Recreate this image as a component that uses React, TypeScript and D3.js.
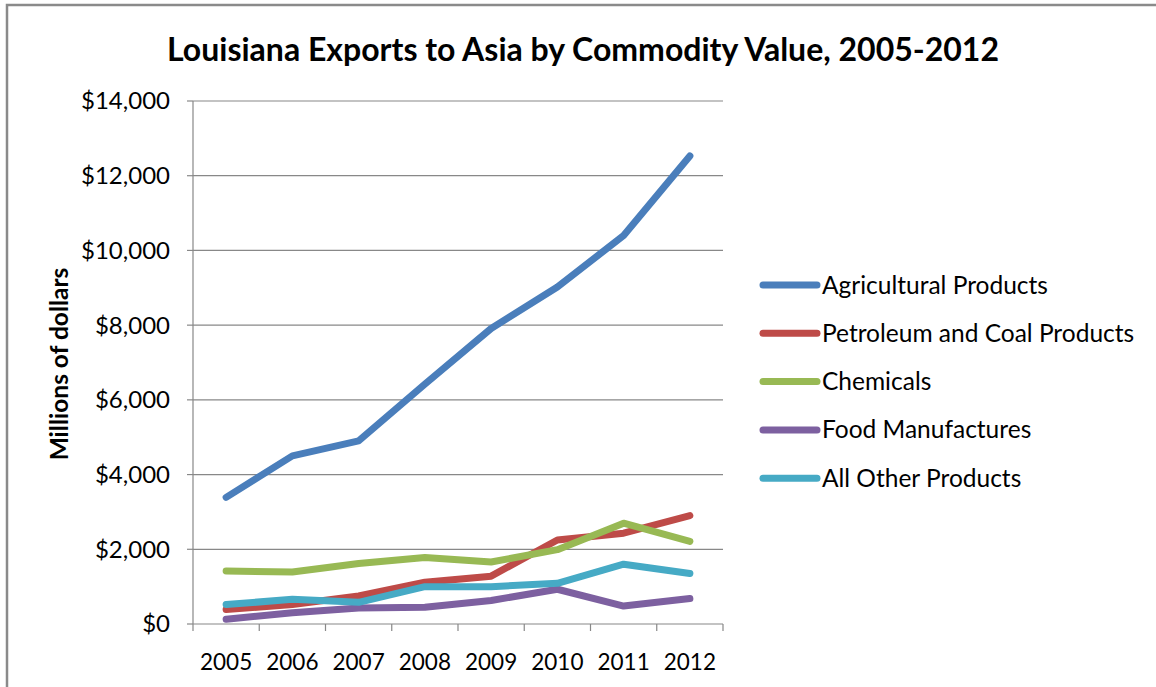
import React from 'react';
import * as d3 from 'd3';

// Louisiana exports to Asia, millions of dollars
const years = ['2005', '2006', '2007', '2008', '2009', '2010', '2011', '2012'];
const agricultural = [3390, 4500, 4900, 6420, 7910, 9020, 10400, 12530];
const petroleum = [390, 520, 750, 1120, 1280, 2250, 2430, 2900];
const chemicals = [1420, 1390, 1620, 1780, 1660, 1990, 2700, 2210];
const food = [130, 300, 430, 450, 630, 930, 480, 680];
const allOther = [520, 660, 580, 1000, 1000, 1090, 1600, 1350];
const seriesNames = [
  'Agricultural Products',
  'Petroleum and Coal Products',
  'Chemicals',
  'Food Manufactures',
  'All Other Products',
];
const yTicks = [0, 2000, 4000, 6000, 8000, 10000, 12000, 14000];

const colors = ['#4a7ebb', '#be4b48', '#98b954', '#7d60a0', '#46aac5'];
const FONT = 'Lato, "Open Sans", sans-serif';

const App = () => {
  const width = 1156;
  const height = 687;
  const left = 193;
  const right = 723;
  const top = 101;
  const bottom = 624;

  const x = d3.scaleBand().domain(years).range([left, right]).padding(0);
  const y = d3.scaleLinear().domain([0, 14000]).range([bottom, top]);
  const fmt = d3.format('$,');

  const series = [agricultural, petroleum, chemicals, food, allOther];

  const line = d3
    .line<number>()
    .x((d, i) => (x(years[i]) as number) + x.bandwidth() / 2)
    .y((d) => y(d));

  const boundaries = years.map((yr) => x(yr) as number).concat([right]);

  return (
    <div style={{ position: 'absolute', left: 0, top: 0 }}>
      <svg width={width} height={height} style={{ display: 'block', background: '#fff' }}>
        {/* chart frame */}
        <rect x={7} y={5} width={1200} height={720} fill="none" stroke="#8a8a8a" strokeWidth={2.5} />

        <text
          x={583}
          y={61}
          textAnchor="middle"
          fontFamily={FONT}
          fontWeight="bold"
          fontSize={32}
          fill="#000"
        >
          Louisiana Exports to Asia by Commodity Value, 2005-2012
        </text>

        {/* gridlines */}
        {yTicks.map((t) => (
          <g key={t}>
            {t > 0 && (
              <line x1={left} x2={right} y1={y(t)} y2={y(t)} stroke="#888" strokeWidth={1.2} />
            )}
            <line x1={left - 6} x2={left} y1={y(t)} y2={y(t)} stroke="#888" strokeWidth={1.2} />
            <text
              x={170}
              y={y(t)}
              dy="0.35em"
              textAnchor="end"
              fontFamily={FONT}
              fontSize={24}
              fill="#000"
            >
              {fmt(t)}
            </text>
          </g>
        ))}

        {/* axes */}
        <line x1={left} x2={left} y1={top} y2={bottom} stroke="#888" strokeWidth={1.2} />
        <line x1={left} x2={right} y1={bottom} y2={bottom} stroke="#888" strokeWidth={1.2} />
        {boundaries.map((b, i) => (
          <line key={i} x1={b} x2={b} y1={bottom} y2={bottom + 7} stroke="#888" strokeWidth={1.2} />
        ))}
        {years.map((yr) => (
          <text
            key={yr}
            x={(x(yr) as number) + x.bandwidth() / 2}
            y={670}
            textAnchor="middle"
            fontFamily={FONT}
            fontSize={22.5}
            fill="#000"
          >
            {yr}
          </text>
        ))}

        <text
          transform={`translate(68, 364) rotate(-90)`}
          textAnchor="middle"
          fontFamily={FONT}
          fontWeight="bold"
          fontSize={24.5}
          fill="#000"
        >
          Millions of dollars
        </text>

        {/* series */}
        {series.map((s, i) => (
          <path
            key={seriesNames[i]}
            d={line(s) || ''}
            fill="none"
            stroke={colors[i]}
            strokeWidth={7}
            strokeLinejoin="round"
            strokeLinecap="round"
          />
        ))}

        {/* legend */}
        {seriesNames.map((name, i) => {
          const ly = 285 + i * 48.3;
          return (
            <g key={name}>
              <line
                x1={763}
                x2={817}
                y1={ly}
                y2={ly}
                stroke={colors[i]}
                strokeWidth={7}
                strokeLinecap="round"
              />
              <text x={822} y={ly} dy="0.35em" fontFamily={FONT} fontSize={24.5} fill="#000">
                {name}
              </text>
            </g>
          );
        })}
      </svg>
    </div>
  );
};

export default App;
